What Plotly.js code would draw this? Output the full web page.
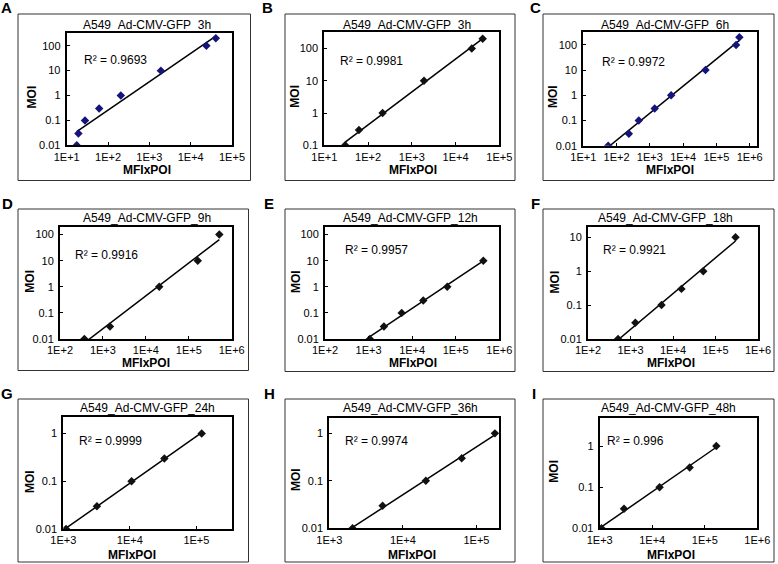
<!DOCTYPE html>
<html><head><meta charset="utf-8">
<script src="https://cdn.plot.ly/plotly-3.0.1.min.js"></script>
<style>body{margin:0;background:#fff}#chart{width:778px;height:564px}</style>
</head><body><div id="chart"></div>
<script>
// ---------- DATA ----------
const panelLetters = ["A","B","C","D","E","F","G","H","I"];
const panelTitles = ["A549_Ad-CMV-GFP_3h","A549_Ad-CMV-GFP_3h","A549_Ad-CMV-GFP_6h",
  "A549_Ad-CMV-GFP_9h","A549_Ad-CMV-GFP_12h","A549_Ad-CMV-GFP_18h",
  "A549_Ad-CMV-GFP_24h","A549_Ad-CMV-GFP_36h","A549_Ad-CMV-GFP_48h"];
const r2Labels = ["R² = 0.9693","R² = 0.9981","R² = 0.9972","R² = 0.9916","R² = 0.9957",
  "R² = 0.9921","R² = 0.9999","R² = 0.9974","R² = 0.996"];
const xTitle = "MFIxPOI";
const yTitle = "MOI";

const mfiA = [17.5, 19.2, 27.7, 61, 204, 1900, 24000, 40600];
const moiA = [0.01, 0.03, 0.1, 0.3, 1, 10, 100, 200];
const mfiB = [30, 62, 215, 1900, 23500, 41700];
const moiB = [0.1, 0.3, 1, 10, 100, 200];
const mfiC = [56, 234, 465, 1400, 4370, 47000, 390000, 490000];
const moiC = [0.01, 0.03, 0.1, 0.3, 1, 10, 100, 200];
const mfiD = [370, 1460, 20500, 162000, 515000];
const moiD = [0.01, 0.03, 1, 10, 100];
const mfiE = [1070, 2250, 5750, 18000, 64000, 430000];
const moiE = [0.01, 0.03, 0.1, 0.3, 1, 10];
const mfiF = [510, 1300, 5360, 15800, 51500, 296000];
const moiF = [0.01, 0.03, 0.1, 0.3, 1, 10];
const mfiG = [1100, 3200, 10600, 33000, 120000];
const moiG = [0.01, 0.03, 0.1, 0.3, 1];
const mfiH = [2070, 5300, 20500, 63000, 178000];
const moiH = [0.01, 0.03, 0.1, 0.3, 1];
const mfiI = [1080, 2900, 13800, 51600, 166000];
const moiI = [0.01, 0.03, 0.1, 0.3, 1];

const xTicks1to5 = [1e1, 1e2, 1e3, 1e4, 1e5];
const xTickText1to5 = ["1E+1","1E+2","1E+3","1E+4","1E+5"];
const xTicks1to6 = [1e1, 1e2, 1e3, 1e4, 1e5, 1e6];
const xTickText1to6 = ["1E+1","1E+2","1E+3","1E+4","1E+5","1E+6"];
const xTicks2to6 = [1e2, 1e3, 1e4, 1e5, 1e6];
const xTickText2to6 = ["1E+2","1E+3","1E+4","1E+5","1E+6"];
const xTicks3to5 = [1e3, 1e4, 1e5];
const xTickText3to5 = ["1E+3","1E+4","1E+5"];
const xTicks3to6 = [1e3, 1e4, 1e5, 1e6];
const xTickText3to6 = ["1E+3","1E+4","1E+5","1E+6"];

const yTicks2to2 = [0.01, 0.1, 1, 10, 100];
const yTickText2to2 = ["0.01","0.1","1","10","100"];
const yTicks1to2 = [0.1, 1, 10, 100];
const yTickText1to2 = ["0.1","1","10","100"];
const yTicks2to1 = [0.01, 0.1, 1, 10];
const yTickText2to1 = ["0.01","0.1","1","10"];
const yTicks2to0 = [0.01, 0.1, 1];
const yTickText2to0 = ["0.01","0.1","1"];

// ---------- LAYOUT CONFIG ----------
const W = 778, H = 564;
const FONT = "Liberation Sans, Arial, sans-serif";
const px = v => v / W;
const py = v => 1 - v / H;

const panels = [
  {x: mfiA, y: moiA, xt: xTicks1to5, xtt: xTickText1to5, yt: yTicks2to2, ytt: yTickText2to2,
   box: [66.7, 232, 33.3, 145.3], xr: [1, 5], yr: [-2, 2.5], col: "#14147a",
   outer: [18, 250.5, 14, 180.5], letter: [6.5, 7], title: [147, 25], r2: [81.7, 60], xlab: [147, 170], ylab: [31.7, 96.7]},
  {x: mfiB, y: moiB, xt: xTicks1to5, xtt: xTickText1to5, yt: yTicks1to2, ytt: yTickText1to2,
   box: [324.3, 499.3, 32.3, 145.3], xr: [1, 5], yr: [-1, 2.5], col: "#111",
   outer: [285, 515, 14, 180.5], letter: [267.5, 7], title: [407, 25], r2: [338.3, 61], xlab: [413, 170], ylab: [295, 96.7]},
  {x: mfiC, y: moiC, xt: xTicks1to6, xtt: xTickText1to6, yt: yTicks2to2, ytt: yTickText2to2,
   box: [583.3, 757, 32.3, 145.7], xr: [1, 6.22], yr: [-2, 2.5], col: "#14147a",
   outer: [543, 774, 14, 180.5], letter: [535.5, 7], title: [665, 25], r2: [599.7, 61.7], xlab: [670, 170], ylab: [553, 97]},
  {x: mfiD, y: moiD, xt: xTicks2to6, xtt: xTickText2to6, yt: yTicks2to2, ytt: yTickText2to2,
   box: [60, 231.7, 226.7, 339], xr: [2, 6], yr: [-2, 2.3], col: "#111",
   outer: [18, 248.5, 209, 370.5], letter: [7.5, 203.3], title: [147, 218], r2: [73.3, 255], xlab: [145.7, 363.2], ylab: [30, 281.7]},
  {x: mfiE, y: moiE, xt: xTicks2to6, xtt: xTickText2to6, yt: yTicks2to2, ytt: yTickText2to2,
   box: [325, 499.3, 226.7, 339], xr: [2, 6], yr: [-2, 2.3], col: "#111",
   outer: [285, 515, 209, 371.5], letter: [269, 203.3], title: [410, 218], r2: [342.7, 250], xlab: [413.3, 363.2], ylab: [296, 282]},
  {x: mfiF, y: moiF, xt: xTicks2to6, xtt: xTickText2to6, yt: yTicks2to1, ytt: yTickText2to1,
   box: [588, 758, 226.7, 339], xr: [2, 6], yr: [-2, 1.31], col: "#111",
   outer: [543, 774, 209, 371.5], letter: [535, 203.3], title: [665, 218], r2: [600.7, 250], xlab: [671.3, 363.2], ylab: [554.7, 281.7]},
  {x: mfiG, y: moiG, xt: xTicks3to5, xtt: xTickText3to5, yt: yTicks2to0, ytt: yTickText2to0,
   box: [63.3, 231.7, 416.7, 529], xr: [3, 5.53], yr: [-2, 0.35], col: "#111",
   outer: [18, 248.5, 399, 562], letter: [6.7, 393.3], title: [147, 408], r2: [77.3, 440.7], xlab: [131.7, 554.5], ylab: [29.3, 481.7]},
  {x: mfiH, y: moiH, xt: xTicks3to5, xtt: xTickText3to5, yt: yTicks2to0, ytt: yTickText2to0,
   box: [329.3, 499.3, 417.7, 528.3], xr: [3, 5.31], yr: [-2, 0.33], col: "#111",
   outer: [285, 515, 399, 562], letter: [269, 393.3], title: [410, 408], r2: [342.7, 440.7], xlab: [411.7, 554.5], ylab: [296, 480]},
  {x: mfiI, y: moiI, xt: xTicks3to6, xtt: xTickText3to6, yt: yTicks2to0, ytt: yTickText2to0,
   box: [599.7, 757.3, 417.7, 528.3], xr: [3, 6], yr: [-2, 0.69], col: "#111",
   outer: [543, 774, 399, 562], letter: [534, 393.3], title: [668, 408], r2: [605.3, 440.7], xlab: [670.5, 554.5], ylab: [554, 471.7]}
];

// least-squares power-law trendline (linear fit in log-log space), as Excel does
function powerFit(xs, ys) {
  const lx = xs.map(Math.log10), ly = ys.map(Math.log10);
  const n = lx.length;
  const mx = lx.reduce((a, b) => a + b, 0) / n, my = ly.reduce((a, b) => a + b, 0) / n;
  let sxy = 0, sxx = 0;
  for (let i = 0; i < n; i++) { sxy += (lx[i] - mx) * (ly[i] - my); sxx += (lx[i] - mx) ** 2; }
  const b = sxy / sxx, a = my - b * mx;
  const x0 = Math.min(...xs), x1 = Math.max(...xs);
  return {x: [x0, x1], y: [Math.pow(10, a + b * Math.log10(x0)), Math.pow(10, a + b * Math.log10(x1))]};
}

const traces = [];
const layout = {
  width: W, height: H, margin: {l: 0, r: 0, t: 0, b: 0},
  paper_bgcolor: "#fff", plot_bgcolor: "#fff", showlegend: false,
  font: {family: FONT, color: "#000", size: 11},
  annotations: [], shapes: []
};

panels.forEach((p, i) => {
  const n = i + 1;
  const xa = "x" + (n === 1 ? "" : n), ya = "y" + (n === 1 ? "" : n);
  const fit = powerFit(p.x, p.y);
  traces.push({x: fit.x, y: fit.y, xaxis: xa, yaxis: ya, mode: "lines",
    line: {color: "#000", width: 1.5}, hoverinfo: "skip"});
  traces.push({x: p.x, y: p.y, xaxis: xa, yaxis: ya, mode: "markers",
    marker: {symbol: "diamond", size: 6.5, color: p.col}});

  const axCommon = {type: "log", showgrid: false, zeroline: false, showline: true, mirror: true,
    linecolor: "#000", linewidth: 2, ticks: "inside", ticklen: 3, tickwidth: 1, tickcolor: "#000",
    tickmode: "array", fixedrange: true, tickfont: {family: FONT, size: 11, color: "#000"}};
  layout["xaxis" + (n === 1 ? "" : n)] = Object.assign({}, axCommon, {
    domain: [px(p.box[0]), px(p.box[1])], range: p.xr, anchor: ya,
    tickvals: p.xt, ticktext: p.xtt, ticklabelstandoff: 0});
  layout["yaxis" + (n === 1 ? "" : n)] = Object.assign({}, axCommon, {
    domain: [py(p.box[3]), py(p.box[2])], range: p.yr, anchor: xa,
    tickvals: p.yt, ticktext: p.ytt, ticklabelstandoff: 2});

  layout.shapes.push({type: "rect", xref: "paper", yref: "paper",
    x0: px(p.outer[0]), x1: px(p.outer[1]), y0: py(p.outer[3]), y1: py(p.outer[2]),
    line: {color: "#333", width: 1}});

  const ann = (pos, text, opts) => Object.assign({xref: "paper", yref: "paper",
    x: px(pos[0]), y: py(pos[1]), text: text, showarrow: false,
    xanchor: "center", yanchor: "middle", font: {family: FONT, size: 12, color: "#000"}}, opts || {});
  layout.annotations.push(ann(p.letter, "<b>" + panelLetters[i] + "</b>", {font: {family: FONT, size: 15, color: "#000"}}));
  layout.annotations.push(ann(p.title, panelTitles[i]));
  layout.annotations.push(ann(p.r2, r2Labels[i], {xanchor: "left"}));
  layout.annotations.push(ann(p.xlab, "<b>" + xTitle + "</b>"));
  layout.annotations.push(ann(p.ylab, "<b>" + yTitle + "</b>", {textangle: -90}));
});

Plotly.newPlot("chart", traces, layout, {staticPlot: true, displayModeBar: false});
</script>
</body></html>
